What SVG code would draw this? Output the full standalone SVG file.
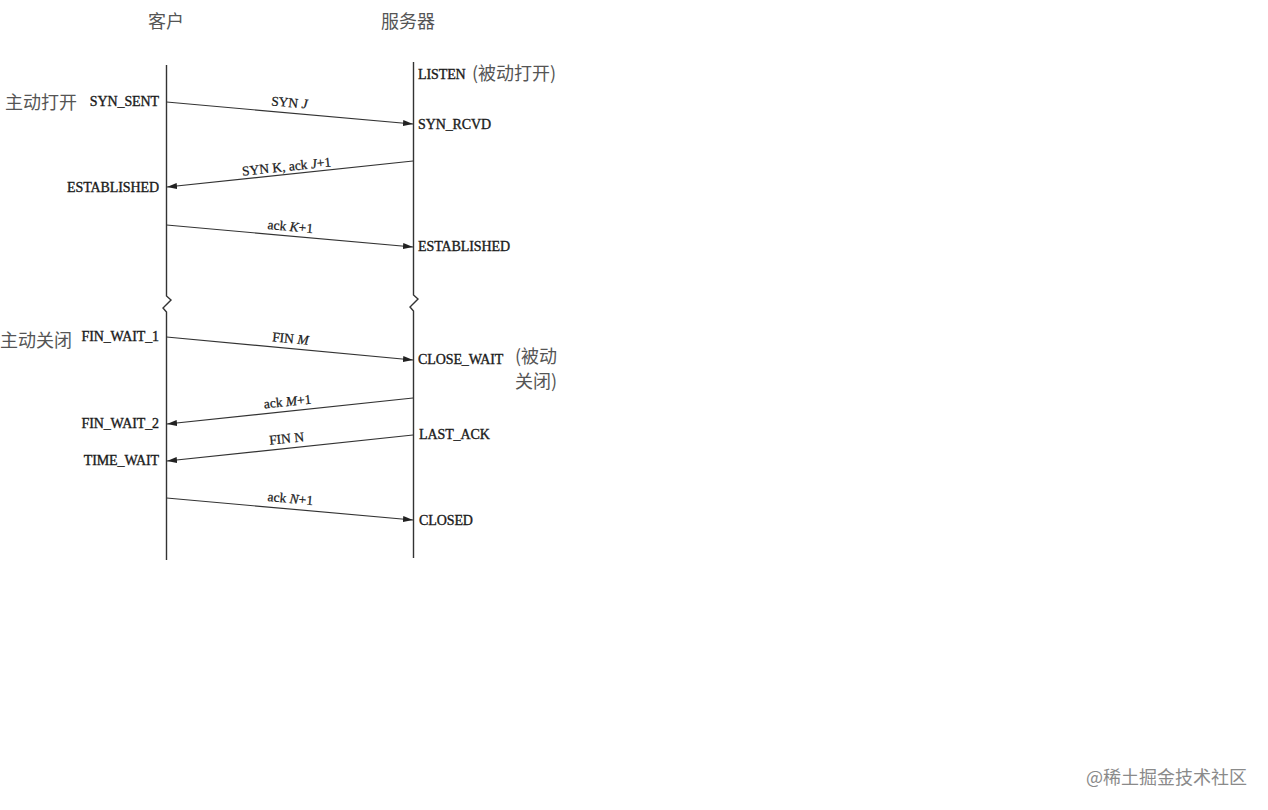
<svg xmlns="http://www.w3.org/2000/svg" width="1268" height="810" viewBox="0 0 1268 810">
<style>
.st{font-family:"Liberation Serif","Times New Roman",serif;font-size:14px;fill:#1a1a1a;stroke:#1a1a1a;stroke-width:0.35;letter-spacing:-0.1px}
.lb{font-family:"Liberation Serif","Times New Roman",serif;font-size:13.5px;fill:#1a1a1a;stroke:#1a1a1a;stroke-width:0.25}
.cn{font-family:"Noto Sans CJK SC","Noto Sans",sans-serif;font-size:18px;fill:#555}
.ln{stroke:#333;stroke-width:1.4;fill:none}
.ar{stroke:#333;stroke-width:1.2;fill:none;marker-end:url(#ah)}
.wm{font-family:"Noto Sans CJK SC","Noto Sans",sans-serif;font-size:18px;fill:#8a8a8a}
</style>
<defs>
<marker id="ah" viewBox="0 0 10 6" refX="10" refY="3" markerWidth="10" markerHeight="6" markerUnits="userSpaceOnUse" orient="auto">
<path d="M0,0 L10,3 L0,6 Z" fill="#222"/>
</marker>
</defs>
<rect width="1268" height="810" fill="#fff"/>
<g id="client">
<text class="cn" x="166" y="28" text-anchor="middle">客户</text>
<path class="ln" d="M166.5,65 L166.5,296 L171,300 L163,308 L166.5,312 L166.5,560"/>
</g>
<g id="server">
<text class="cn" x="408" y="28" text-anchor="middle">服务器</text>
<path class="ln" d="M413.5,62 L413.5,295 L418,299 L410,307 L413.5,311 L413.5,558"/>
</g>
<g id="connectors">
<path class="ar" d="M166.5,102 L413,124"/>
<path class="ar" d="M413,161 L167,187"/>
<path class="ar" d="M166.5,225 L413,247"/>
<path class="ar" d="M166.5,337 L413,360"/>
<path class="ar" d="M413,398 L167,424"/>
<path class="ar" d="M413,435 L167,461"/>
<path class="ar" d="M166.5,498 L413,520"/>
</g>
<g id="msg-labels">
<text class="lb" transform="translate(289,107) rotate(5.1)" text-anchor="middle">SYN <tspan font-style="italic">J</tspan></text>
<text class="lb" transform="translate(287,171) rotate(-6)" text-anchor="middle">SYN K, ack <tspan font-style="italic">J</tspan>+1</text>
<text class="lb" transform="translate(290,231) rotate(5.1)" text-anchor="middle">ack <tspan font-style="italic">K</tspan>+1</text>
<text class="lb" transform="translate(290,343) rotate(5.3)" text-anchor="middle">FIN <tspan font-style="italic">M</tspan></text>
<text class="lb" transform="translate(288,406) rotate(-6)" text-anchor="middle">ack <tspan font-style="italic">M</tspan>+1</text>
<text class="lb" transform="translate(287,443) rotate(-6)" text-anchor="middle">FIN N</text>
<text class="lb" transform="translate(290,503) rotate(5.1)" text-anchor="middle">ack <tspan font-style="italic">N</tspan>+1</text>
</g>
<g id="client-states">
<text class="cn" x="5" y="109">主动打开</text>
<text class="st" x="159" y="106" text-anchor="end">SYN_SENT</text>
<text class="st" x="159" y="192" text-anchor="end">ESTABLISHED</text>
<text class="cn" x="0" y="347">主动关闭</text>
<text class="st" x="159" y="341" text-anchor="end">FIN_WAIT_1</text>
<text class="st" x="159" y="428" text-anchor="end">FIN_WAIT_2</text>
<text class="st" x="159" y="465" text-anchor="end">TIME_WAIT</text>
</g>
<g id="server-states">
<text class="st" x="418" y="79">LISTEN</text>
<text class="cn" x="472" y="80">(被动打开)</text>
<text class="st" x="418" y="129">SYN_RCVD</text>
<text class="st" x="418" y="251">ESTABLISHED</text>
<text class="st" x="418" y="364">CLOSE_WAIT</text>
<text class="cn" x="515" y="363">(被动</text>
<text class="cn" x="515" y="388">关闭)</text>
<text class="st" x="419" y="439">LAST_ACK</text>
<text class="st" x="419" y="525">CLOSED</text>
</g>
<g id="watermark">
<text class="wm" x="1086" y="784">@稀土掘金技术社区</text>
</g>
</svg>
